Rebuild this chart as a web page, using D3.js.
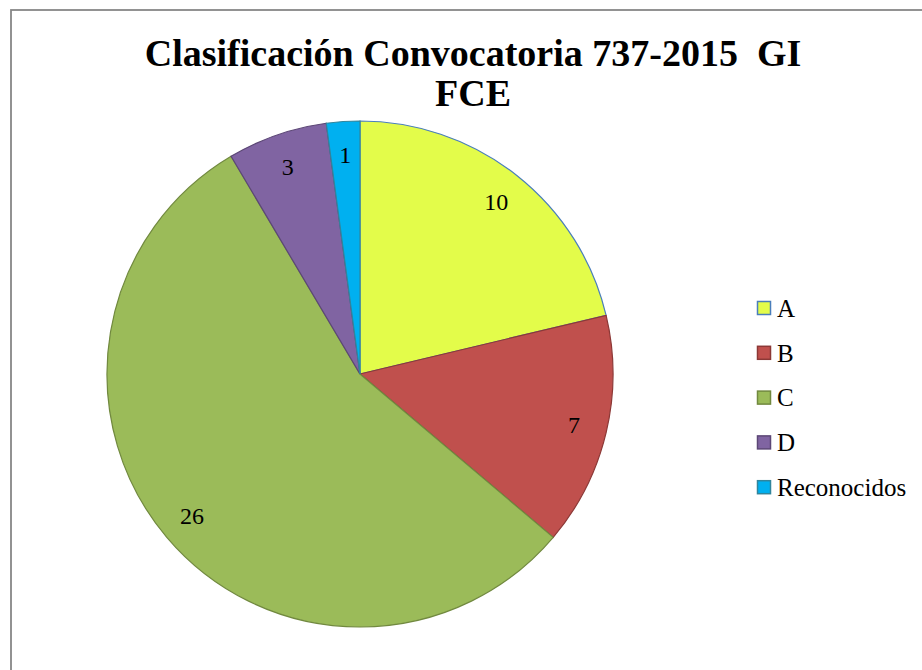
<!DOCTYPE html>
<html>
<head>
<meta charset="utf-8">
<script src="https://cdnjs.cloudflare.com/ajax/libs/d3/7.8.5/d3.min.js"></script>
<style>
  body { margin: 0; }
  svg text { font-family: "Liberation Serif", Tinos, "Times New Roman", "DejaVu Serif" !important; }
</style>
</head>
<body>
<div id="chart"></div>
<script>
var categories = ["A", "B", "C", "D", "Reconocidos"];
var values = [10, 7, 26, 3, 1];
var fills = ["#e3fc4a", "#c0504d", "#9bbb59", "#8064a2", "#00b0f0"];
var strokes = ["#4a7ebb", "#8c3836", "#71893f", "#5c4776", "#31859c"];
var titleLines = ["Clasificación Convocatoria 737-2015  GI", "FCE"];

var width = 922;
var height = 670;
var cx = 360, cy = 374, radius = 253;

var svg = d3.select("#chart").append("svg")
  .attr("width", width)
  .attr("height", height);

svg.append("rect")
  .attr("x", 11)
  .attr("y", 10)
  .attr("width", width + 20)
  .attr("height", height + 20)
  .attr("fill", "#fff")
  .attr("stroke", "#878787")
  .attr("stroke-width", 1.8);

svg.selectAll("text.title")
  .data(titleLines)
  .enter()
  .append("text")
  .attr("class", "title")
  .attr("x", 473)
  .attr("y", function(d, i) { return 66 + i * 40; })
  .attr("text-anchor", "middle")
  .attr("font-size", 38)
  .attr("font-weight", "bold")
  .attr("xml:space", "preserve")
  .text(function(d) { return d; });

var pie = d3.pie().sort(null).value(function(d) { return d; });
var arcs = pie(values);
var arc = d3.arc().innerRadius(0).outerRadius(radius);
var labelArc = d3.arc().innerRadius(220).outerRadius(220);

var g = svg.append("g")
  .attr("transform", "translate(" + cx + "," + cy + ")");

g.selectAll("path")
  .data(arcs)
  .enter()
  .append("path")
  .attr("d", arc)
  .attr("fill", function(d, i) { return fills[i]; })
  .attr("stroke", function(d, i) { return strokes[i]; })
  .attr("stroke-width", 1.2);

g.selectAll("text.lbl")
  .data(arcs)
  .enter()
  .append("text")
  .attr("class", "lbl")
  .attr("transform", function(d) { return "translate(" + labelArc.centroid(d) + ")"; })
  .attr("text-anchor", "middle")
  .attr("dy", "0.35em")
  .attr("font-size", 24)
  .text(function(d) { return d.data; });

var rows = svg.append("g").selectAll("g")
  .data(categories)
  .enter()
  .append("g")
  .attr("transform", function(d, i) { return "translate(757," + (308 + i * 44.8) + ")"; });

rows.append("rect")
  .attr("x", 0.5)
  .attr("y", -6.5)
  .attr("width", 13)
  .attr("height", 13)
  .attr("fill", function(d, i) { return fills[i]; })
  .attr("stroke", function(d, i) { return strokes[i]; })
  .attr("stroke-width", 1.5);

rows.append("text")
  .attr("x", 20)
  .attr("dy", "0.35em")
  .attr("font-size", 25)
  .text(function(d) { return d; });
</script>
</body>
</html>
